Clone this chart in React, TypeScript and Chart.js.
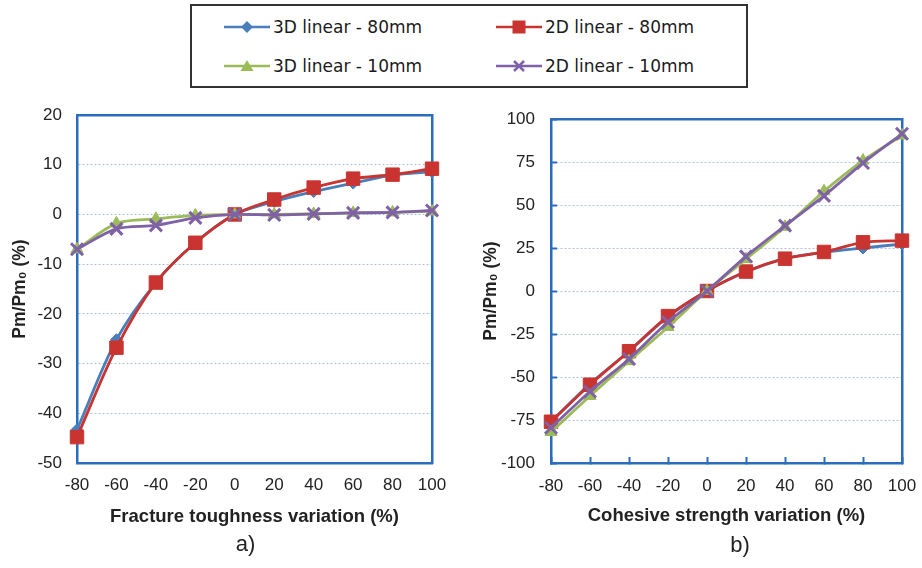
import React, { useEffect, useRef } from 'react';
import { Chart, registerables } from 'chart.js';

Chart.register(...registerables);

// ---------------- data ----------------
const categories = ['-80', '-60', '-40', '-20', '0', '20', '40', '60', '80', '100'];
const seriesNames = ['3D linear - 80mm', '2D linear - 80mm', '3D linear - 10mm', '2D linear - 10mm'];

// panel a) Fracture toughness variation
const toughness3D80 = [-43.3, -25.2, -13.7, -5.7, 0, 2.6, 4.6, 6.3, 7.9, 8.6];
const toughness2D80 = [-44.8, -26.8, -13.7, -5.7, 0, 3.0, 5.4, 7.2, 8.0, 9.2];
const toughness3D10 = [-7.0, -1.8, -0.9, -0.2, 0, 0, 0.1, 0.3, 0.4, 0.6];
const toughness2D10 = [-7.0, -2.9, -2.2, -0.7, 0, -0.1, 0.1, 0.3, 0.4, 0.8];

// panel b) Cohesive strength variation
const cohesive3D80 = [-76, -54, -35, -15, 0, 11, 19, 22.5, 25, 27.3];
const cohesive2D80 = [-76, -54.5, -35, -14.6, 0, 11.3, 18.8, 22.7, 28.3, 29.3];
const cohesive3D10 = [-82, -61, -40.8, -20.9, 0, 18.5, 37.3, 58, 75.8, 90.4];
const cohesive2D10 = [-79.5, -58.4, -39.5, -18, 0, 20.1, 38, 55.3, 74.4, 91.4];

const toughnessAxis = [-50, 20, 10]; // min, max, step
const cohesiveAxis = [-100, 100, 25];

const yAxisTitle = 'Pm/Pm\u2080 (%)';
const xTitleA = 'Fracture toughness variation (%)';
const xTitleB = 'Cohesive strength variation (%)';
const panelLabelA = 'a)';
const panelLabelB = 'b)';

// ---------------- styles ----------------
const FONT = "'Liberation Sans', Arial, sans-serif";
const BLUE = '#4A7EBB';
const RED = '#C93430';
const GREEN = '#9BBB59';
const PURPLE = '#7F62A6';
const AXIS = '#2A6EBB';
const GRID = '#A9C2DE';
const TEXT = '#222222';

const seriesStyles = [
  { color: BLUE, pointStyle: 'rectRot', radius: 6, order: 3, pbw: 1 },
  { color: RED, pointStyle: 'rect', radius: 9.5, order: 2, pbw: 1 },
  { color: GREEN, pointStyle: 'triangle', radius: 7, order: 1, pbw: 1 },
  { color: PURPLE, pointStyle: 'crossRot', radius: 8.5, order: 0, pbw: 3 },
];

function makeDatasets(values: number[][]) {
  return values.map((d, i) => {
    const s = seriesStyles[i];
    return {
      label: seriesNames[i],
      data: d,
      xAxisID: 'x',
      yAxisID: 'y',
      borderColor: s.color,
      backgroundColor: s.color,
      pointBackgroundColor: s.color,
      pointBorderColor: s.color,
      pointStyle: s.pointStyle,
      pointRadius: s.radius,
      pointBorderWidth: s.pbw,
      borderWidth: 2.8,
      tension: 0.3,
      order: s.order,
    };
  });
}

type Geo = {
  width: number;
  height: number;
  yWidth: number;
  rightWidth: number;
  topHeight: number;
  xHeight: number;
  xTitlePadBottom: number;
  xTickPad: number;
  yTickPad: number;
  yTitlePad: number;
  tickLen: number;
  labelPadBottom: number;
};

function makeConfig(values: number[][], axis: number[], xTitle: string, label: string, g: Geo): any {
  const ticksOn = g.tickLen !== 0;
  return {
    type: 'line',
    data: { labels: categories, datasets: makeDatasets(values) },
    options: {
      responsive: false,
      animation: false,
      layout: { padding: 0 },
      plugins: {
        legend: { display: false },
        tooltip: { enabled: false },
        title: {
          display: true,
          position: 'bottom',
          text: label,
          color: TEXT,
          font: { family: FONT, size: 22, weight: 'normal' },
          padding: { top: 0, bottom: g.labelPadBottom },
        },
      },
      scales: {
        x: {
          type: 'category',
          position: 'bottom',
          offset: false,
          grid: {
            display: ticksOn,
            drawOnChartArea: false,
            drawTicks: ticksOn,
            tickLength: g.tickLen,
            tickColor: AXIS,
            tickWidth: 2,
            tickBorderDash: [],
          },
          border: { display: true, color: AXIS, width: 2.5 },
          ticks: {
            color: TEXT,
            font: { family: FONT, size: 17 },
            padding: g.xTickPad,
            maxRotation: 0,
            autoSkip: false,
          },
          title: {
            display: true,
            text: xTitle,
            color: TEXT,
            font: { family: FONT, size: 18.5, weight: 'bold' },
            padding: { top: 0, bottom: g.xTitlePadBottom },
          },
          afterFit: (s: any) => {
            s.height = g.xHeight;
            s.paddingLeft = 0;
            s.paddingRight = 0;
          },
        },
        y: {
          type: 'linear',
          position: 'left',
          min: axis[0],
          max: axis[1],
          ticks: {
            stepSize: axis[2],
            color: TEXT,
            font: { family: FONT, size: 17 },
            padding: g.yTickPad,
          },
          grid: {
            display: true,
            color: GRID,
            lineWidth: 1,
            drawTicks: ticksOn,
            tickLength: g.tickLen,
            tickColor: AXIS,
            tickWidth: 2,
            tickBorderDash: [],
          },
          border: { display: true, color: AXIS, width: 2.5, dash: [2, 2] },
          title: {
            display: true,
            text: yAxisTitle,
            color: TEXT,
            font: { family: FONT, size: 17.5, weight: 'bold' },
            padding: { top: g.yTitlePad, bottom: 0 },
          },
          afterFit: (s: any) => {
            s.width = g.yWidth;
            s.paddingTop = 0;
            s.paddingBottom = 0;
          },
        },
        yR: {
          type: 'linear',
          position: 'right',
          grid: { display: false, drawTicks: false },
          ticks: { display: false },
          border: { display: true, color: AXIS, width: 2.5 },
          afterFit: (s: any) => {
            s.width = g.rightWidth;
          },
        },
        xT: {
          type: 'linear',
          position: 'top',
          grid: { display: false, drawTicks: false },
          ticks: { display: false },
          border: { display: true, color: AXIS, width: 2.5 },
          afterFit: (s: any) => {
            s.height = g.topHeight;
          },
        },
      },
    },
  };
}

const geoA: Geo = {
  width: 491,
  height: 468,
  yWidth: 77,
  rightWidth: 59,
  topHeight: 15,
  xHeight: 68.8,
  xTitlePadBottom: 4.2,
  xTickPad: 12,
  yTickPad: 15,
  yTitlePad: 10,
  tickLen: 0,
  labelPadBottom: 9.8,
};

const geoB: Geo = {
  width: 570,
  height: 468,
  yWidth: 96,
  rightWidth: 123,
  topHeight: 19,
  xHeight: 69.8,
  xTitlePadBottom: 5.7,
  xTickPad: 19,
  yTickPad: 22,
  yTitlePad: 25.5,
  tickLen: -6,
  labelPadBottom: 8.8,
};

function Panel(props: { values: number[][]; axis: number[]; xTitle: string; label: string; geo: Geo; left: number; top: number }) {
  const ref = useRef<HTMLCanvasElement | null>(null);
  useEffect(() => {
    if (!ref.current) return;
    const chart = new Chart(ref.current, makeConfig(props.values, props.axis, props.xTitle, props.label, props.geo));
    return () => chart.destroy();
  }, []);
  return (
    <canvas
      ref={ref}
      width={props.geo.width}
      height={props.geo.height}
      style={{ position: 'absolute', left: props.left, top: props.top, width: props.geo.width, height: props.geo.height }}
    />
  );
}

function LegendMarker(props: { index: number }) {
  const s = seriesStyles[props.index];
  const c = s.color;
  let marker: any = null;
  if (props.index === 0) marker = <polygon points="23,4 29,10 23,16 17,10" fill={c} />;
  if (props.index === 1) marker = <rect x={16.5} y={3.5} width={13} height={13} fill={c} />;
  if (props.index === 2) marker = <polygon points="23,4 29.5,15 16.5,15" fill={c} />;
  if (props.index === 3)
    marker = (
      <g stroke={c} strokeWidth={2.5}>
        <line x1={18} y1={5} x2={28} y2={15} />
        <line x1={28} y1={5} x2={18} y2={15} />
      </g>
    );
  return (
    <svg width={46} height={20} style={{ position: 'absolute', left: 0, top: 0 }}>
      <line x1={0} y1={10} x2={46} y2={10} stroke={c} strokeWidth={2.5} />
      {marker}
    </svg>
  );
}

function Legend() {
  const pos = [
    { x: 224, y: 27 },
    { x: 496, y: 27 },
    { x: 224, y: 66 },
    { x: 496, y: 66 },
  ];
  return (
    <>
      <div
        style={{
          position: 'absolute',
          left: 190,
          top: 4,
          width: 558,
          height: 84,
          border: '2px solid #333',
          boxSizing: 'border-box',
          background: '#fff',
        }}
      />
      {seriesNames.map((name, i) => (
        <div key={name} style={{ position: 'absolute', left: pos[i].x, top: pos[i].y - 10, height: 20, width: 260 }}>
          <LegendMarker index={i} />
          <span
            style={{
              position: 'absolute',
              left: 49,
              top: 0,
              lineHeight: '20px',
              fontSize: 17,
              fontFamily: "'DejaVu Sans', Verdana, sans-serif",
              color: '#1a1a1a',
              whiteSpace: 'nowrap',
            }}
          >
            {name}
          </span>
        </div>
      ))}
    </>
  );
}

export default function App() {
  return (
    <div style={{ position: 'absolute', left: 0, top: 0, width: 922, height: 568, overflow: 'hidden', background: '#fff' }}>
      <Legend />
      <Panel values={[toughness3D80, toughness2D80, toughness3D10, toughness2D10]} axis={toughnessAxis} xTitle={xTitleA} label={panelLabelA} geo={geoA} left={0} top={100} />
      <Panel values={[cohesive3D80, cohesive2D80, cohesive3D10, cohesive2D10]} axis={cohesiveAxis} xTitle={xTitleB} label={panelLabelB} geo={geoB} left={455} top={100} />
    </div>
  );
}
